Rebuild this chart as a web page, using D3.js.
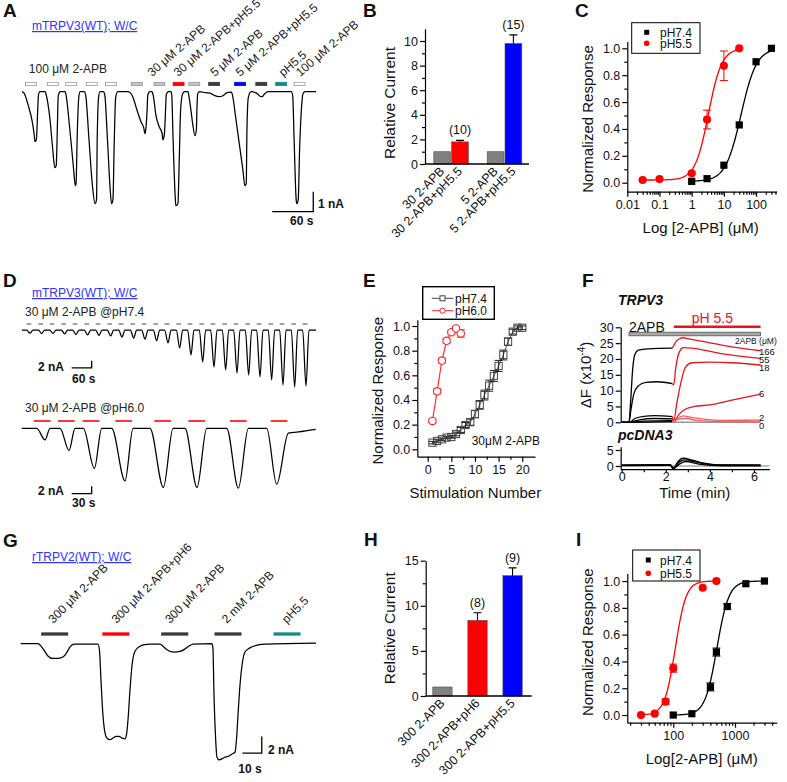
<!DOCTYPE html>
<html><head><meta charset="utf-8">
<script src="https://cdn.jsdelivr.net/npm/d3@7"></script>
<style>
body{margin:0;background:#fff}
svg{display:block}
text{font-family:'Liberation Sans',Arial,Helvetica,sans-serif;fill:#111}
.ax .domain,.ax line{stroke:#000;stroke-width:1.2}
.ax text{font-size:12.5px;fill:#111}
.trace{fill:none;stroke:#000;stroke-width:1.25;stroke-linejoin:round}
</style></head><body>
<div id="fig"></div>
<script>
// ---------- data ----------
// A: whole-cell trace, time (s) / current (nA)
var aTrace = [
 [0,0],[3,-0.07],[9,-0.67],[15,-1.5],[18,-2.2],[19,-2.5],[21,-2.4],[23,-0.9],[24,-0.2],[26,0],[34,0],
 [35,-0.1],[41,-1.4],[45,-2.9],[48,-3.8],[50,-3.7],[52,-1.4],[53,-0.2],[56,0],[63,0],
 [64,-0.1],[70,-1.9],[75,-3.7],[78,-4.7],[79,-4.6],[81,-1.9],[83,-0.3],[85,0],[91,0],
 [93,-0.15],[98,-2.4],[103,-4.7],[107,-5.6],[109,-5.4],[110,-2.4],[112,-0.3],[114,0],[119,0],
 [121,-0.15],[125,-2.4],[129,-4.9],[131,-5.6],[133,-5.4],[135,-2.4],[137,-0.3],[140,0],[155,0],[159,-0.07],
 [162,-0.25],[168,-0.9],[174,-1.5],[178,-1.8],[180,-2.1],[181,-1.9],[183,-0.9],[184,-0.15],[187,0],[190,0],
 [192,-0.2],[196,-1.2],[200,-1.7],[205,-2.1],[206,-2.4],[208,-2.2],[210,-0.9],[211,-0.15],[214,0],[218,0],
 [219,-0.15],[221,-2.4],[224,-5.2],[225,-5.7],[228,-5.6],[230,-3.4],[232,-0.9],[235,-0.1],[238,0],[243,0],
 [244,-0.2],[247,-0.9],[250,-1.7],[253,-2.2],[255,-1.9],[256,-0.7],[257,-0.1],[260,0],
 [268,-0.05],[275,-0.07],[282,-0.2],[288,-0.25],[294,-0.2],[300,-0.05],[306,-0.02],
 [307,-0.07],[313,-1.4],[319,-2.9],[323,-3.9],[326,-4.7],[328,-4.6],[329,-1.9],[331,-0.3],[335,0],
 [343,-0.07],[347,-0.2],[351,-0.25],[355,-0.1],[360,0],[394,0],
 [396,-0.25],[398,-2.4],[401,-5.4],[402,-5.6],[404,-5.4],[406,-2.9],[409,-0.7],[411,-0.1],[414,0],[430,0]
];
var aBarT = [13,45,72,102,130,168,201,229,252,281,319,350,379,406];
var aBarKind = ["w","w","w","w","w","g","g","r","g","k","b","k","t","w"];
var aRotLabels = ["30 \u03bcM 2-APB","30 \u03bcM 2-APB+pH5.5","5 \u03bcM 2-APB","5 \u03bcM 2-APB+pH5.5","pH5.5","100 \u03bcM 2-APB"];
var aRotT = [190,228,282,319,382,407];

// B
var bCats = ["30 2-APB","30 2-APB+pH5.5","5 2-APB","5 2-APB+pH5.5"];
var bVals = [1,1.8,1,9.8];
var bErr = [0,0.12,0,0.7];
var bN = ["","(10)","","(15)"];

// C: dose response
var cConc74 = [1,3,10,30,100,300];
var cResp74 = [0.01,0.03,0.13,0.43,0.9,1.0];
var cConc55 = [0.03,0.1,1,3,10,30];
var cResp55 = [0.02,0.027,0.07,0.47,0.87,1.0];
var cErr55 = [0,0,0,0.07,0.11,0];
var cFit74 = {ec50:34, n:1.8, bottom:0.01, top:1, lo:1, hi:300};
var cFit55 = {ec50:3.3, n:2.1, bottom:0.02, top:1, lo:0.03, hi:30};

// D: top trace (pH7.4) trough times (s) and amplitudes (nA)
var dTopTrough = [24,59,93,128,162,197,231,266,300,335,369,404,438,473,507,542,576,611,645,680,714,749,783,818,852];
var dTopAmp = [0.9,1,1,1.1,1.3,1.4,1.6,1.7,2,2.3,2.6,3.1,3.7,5.1,7.1,9.1,10.6,11.4,12.3,12.9,13.4,14.3,15.7,16.3,16];
// D: bottom trace (pH6.0)
var dBotOn = [22.5,57.5,92.5,135,192.5,245,307.5,367.5];
var dBotTrough = [35,71,109,155,212.5,263,325,382.5];
var dBotEnd = [42.5,80,120,167,227,277.5,340,400];
var dBotAmp = [3.2,6.1,11,14.4,16.2,16.2,16.4,15.3];
var dBotEndLevel = [0,0,0,0,0,0,0,-1.3];
var dBotTail = [[415,-1.0],[441,-0.3]];
var dBotDash = [31,67,104,153,211.5,262.5,325,386];

// E
var eStim74 = [1,2,3,4,5,6,7,8,9,10,11,12,13,14,15,16,17,18,19,20];
var eResp74 = [0.054,0.068,0.081,0.095,0.10,0.124,0.157,0.197,0.22,0.286,0.36,0.44,0.516,0.595,0.676,0.765,0.873,0.954,0.986,0.986];
var eErr74 = [0.01,0.01,0.01,0.01,0.01,0.015,0.02,0.02,0.025,0.03,0.035,0.04,0.045,0.045,0.045,0.04,0.03,0.02,0.015,0.015];
var eStim60 = [1,2,3,4,5,6,7];
var eResp60 = [0.23,0.47,0.72,0.88,0.95,0.98,0.94];
var eErr60 = [0.015,0.02,0.02,0.02,0.015,0.015,0.03];

// F: fluorescence, time (min) / dF (x1e-4)
var fConc = ["166","55","18","6","2","0"];
var fBlack = [
 [[0,0],[0.33,0],[0.4,6],[0.5,17],[0.6,21.5],[0.75,22.8],[1.2,23.2],[2.3,23.4]],
 [[0,0],[0.33,0],[0.42,4],[0.55,9],[0.75,11.5],[1.1,12.6],[1.6,12.8],[2.3,12.2]],
 [[0,0],[0.35,0],[0.6,1.2],[1.0,1.9],[1.5,2.1],[2.3,1.8]],
 [[0,0],[0.35,0],[0.8,0.8],[1.5,1.2],[2.3,1.1]],
 [[0,0],[0.35,0],[1,0.4],[2.3,0.5]],
 [[0,0],[0.35,0],[2.3,0.2]]
];
var fRed = [
 [[2.3,23.4],[2.4,24.8],[2.6,26.3],[2.8,26.7],[3.0,26.4],[4,25.1],[5,23.8],[6.3,22.6]],
 [[2.3,12.2],[2.36,11.8],[2.45,17],[2.6,22],[2.8,23.6],[3.2,23.4],[4.5,21.7],[6.3,20.2]],
 [[2.3,1.8],[2.36,0.5],[2.5,6],[2.7,13],[2.9,17.5],[3.2,18.8],[4,19],[5,18.8],[6.3,18.1]],
 [[2.3,1.1],[2.36,0.3],[2.6,2.5],[2.9,4.2],[3.3,5.0],[4,5.5],[5,7],[6.3,8.9]],
 [[2.3,0.5],[2.36,0.2],[2.6,1.5],[2.8,2.0],[3.1,1.6],[3.8,0.9],[4.5,0.6],[6.3,0.7]],
 [[2.3,0.2],[2.6,1.0],[2.9,1.2],[3.4,0.6],[4.5,0.2],[6.3,0.1]]
];
var fCtrl = [
 [[0,0.2],[2.2,0.3],[2.35,-1],[2.5,0.8],[2.8,2.4],[3.2,1.8],[3.8,0.8],[4.5,0.3],[6.3,0.3]],
 [[0,0.1],[2.2,0.2],[2.35,-0.5],[2.6,1.2],[2.9,1.9],[3.4,1.2],[4.2,0.3],[6.3,0.2]],
 [[0,0.3],[2.2,0.4],[2.35,-0.8],[2.6,0.5],[2.9,1.4],[3.5,0.6],[4.5,0.1],[6.3,0.1]]
];

// G: rTRPV2 trace, time (s) / current (nA)
var gTrace = [
 [0,0],[9,0],[10,-0.15],[12,-0.75],[14.1,-1.47],[16.7,-1.77],[19.3,-1.75],[21.9,-1.6],[24,-1.0],[25.5,-0.4],[27.6,-0.04],[40,-0.04],
 [40.8,-0.75],[41.6,-4.4],[42.6,-8.5],[43.7,-10.7],[44.7,-11.3],[46.3,-11.5],[47.8,-11.3],[49.4,-11.1],[50.9,-11.1],[52.5,-11.3],[54,-11.4],
 [54.8,-10.9],[55.6,-9.1],[56.6,-5.6],[57.7,-2.55],[59.2,-0.9],[61.8,-0.3],[64.4,-0.1],[67,-0.04],[72.2,-0.04],
 [73.2,-0.2],[75.3,-0.63],[77.3,-0.93],[79.9,-1.0],[82.5,-0.93],[85.1,-0.63],[87.2,-0.28],[89.3,-0.04],[99.1,0],
 [99.6,-0.5],[100.1,-5.6],[100.9,-10.9],[101.7,-13.6],[102.7,-13.9],[104.3,-13.8],[105.8,-13.6],[107.4,-13.5],[109.5,-13.2],[111,-13],
 [111.8,-11.5],[112.6,-8.5],[113.6,-5],[114.7,-2.55],[116.2,-1.0],[118.8,-0.5],[123,-0.15],[126.6,-0.04],[153,0.08]
];
var gBarT = [17.6,49.3,79.8,107.4,138];
var gBarKind = ["k","r","k","k","t"];
var gLabels = ["300 \u03bcM 2-APB","300 \u03bcM 2-APB+pH6","300 \u03bcM 2-APB","2 mM 2-APB","pH5.5"];
var gLabelT = [16.9,49.7,77.3,106.7,137.8];

// H
var hCats = ["300 2-APB","300 2-APB+pH6","300 2-APB+pH5.5"];
var hVals = [1,8.39,13.34];
var hErr = [0,0.84,0.86];
var hN = ["","(8)","(9)"];

// I
var iConc74 = [100,200,400,500,750,1500,3000];
var iResp74 = [0,0.01,0.21,0.47,0.81,0.98,1.0];
var iErr74 = [0,0,0.03,0.03,0.02,0,0];
var iConc55 = [30,50,75,100,300,500];
var iResp55 = [0,0.01,0.1,0.35,0.95,1.0];
var iErr55 = [0,0,0.02,0.03,0,0];
var iFit74 = {ec50:510, n:4.5, bottom:0, top:1, lo:100, hi:3000};
var iFit55 = {ec50:108, n:5, bottom:0, top:1, lo:30, hi:500};

// ---------- helpers ----------
var svg = d3.select("#fig").append("svg").attr("width",787).attr("height",782);
svg.append("rect").attr("width",787).attr("height",782).attr("fill","#fff");

var barColor = {w:"#ffffff", g:"#c4c4c4", r:"#ff0000", k:"#3a3a3a", b:"#0000ff", t:"#138a8a"};
var barStroke = {w:"#999", g:"#999", r:"#ff0000", k:"#3a3a3a", b:"#0000ff", t:"#138a8a"};

function txt(x, y, s, size, o) {
  o = o || {};
  var t = svg.append("text").attr("x",x).attr("y",y).text(s)
    .style("font-size", size + "px");
  if (o.bold) t.style("font-weight","bold");
  if (o.italic) t.style("font-style","italic");
  if (o.anchor) t.attr("text-anchor", o.anchor);
  if (o.fill) t.style("fill", o.fill);
  if (o.rot != null) t.attr("transform", "rotate(" + o.rot + "," + x + "," + y + ")");
  if (o.under) t.style("text-decoration","underline");
  return t;
}
function panel(s, x, y) { txt(x, y, s, 19, {bold:true}); }

function axisY(sc, x, major, minor, fmt) {
  var g = svg.append("g").attr("class","ax").attr("transform","translate(" + x + ",0)");
  g.call(d3.axisLeft(sc).tickValues(major).tickFormat(fmt).tickSize(5).tickSizeOuter(0).tickPadding(2));
  if (minor) g.append("g").call(d3.axisLeft(sc).tickValues(minor).tickFormat("").tickSize(3).tickSizeOuter(0))
    .select(".domain").remove();
  return g;
}
function axisX(sc, y, major, minor, fmt, tick, pad) {
  var g = svg.append("g").attr("class","ax").attr("transform","translate(0," + y + ")");
  g.call(d3.axisBottom(sc).tickValues(major).tickFormat(fmt).tickSize(tick == null ? 5 : tick).tickSizeOuter(0).tickPadding(pad == null ? 3 : pad));
  if (minor) g.append("g").call(d3.axisBottom(sc).tickValues(minor).tickFormat("").tickSize(3).tickSizeOuter(0))
    .select(".domain").remove();
  return g;
}
function logMinor(lo, hi) {
  var out = [];
  for (var e = lo; e < hi; e++) for (var k = 2; k <= 9; k++) out.push(k * Math.pow(10, e));
  return out;
}
function hill(p) {
  var a = Math.log10(p.lo), b = Math.log10(p.hi), pts = [];
  for (var k = 0; k <= 100; k++) {
    var x = Math.pow(10, a + (b - a) * k / 100);
    pts.push([x, p.bottom + (p.top - p.bottom) / (1 + Math.pow(p.ec50 / x, p.n))]);
  }
  return pts;
}
function scaleBar(x1, x2, y1, y2) {
  svg.append("path").attr("d","M" + x1 + "," + y2 + "H" + x2 + "V" + y1)
    .attr("fill","none").attr("stroke","#000").attr("stroke-width",1.3);
}
function errBars(xs, ys, xsData, vals, errs, col) {
  vals.forEach(function(v, i) {
    if (!errs[i]) return;
    var cx = xs(xsData[i]);
    svg.append("path").attr("d","M" + cx + "," + ys(v - errs[i]) + "V" + ys(v + errs[i]) +
      "M" + (cx - 4) + "," + ys(v - errs[i]) + "H" + (cx + 4) + "M" + (cx - 4) + "," + ys(v + errs[i]) + "H" + (cx + 4))
      .attr("stroke", col).attr("stroke-width",1).attr("fill","none");
  });
}
function barPanel(cats, vals, errs, ns, colors, xs, ys, labY) {
  svg.selectAll(null).data(vals).enter().append("rect")
    .attr("x", (d,i) => xs(cats[i]) + 0.5).attr("width", xs.bandwidth() - 1)
    .attr("y", d => ys(d)).attr("height", d => ys(0) - ys(d))
    .attr("fill", (d,i) => colors[i]).attr("stroke","#555").attr("stroke-width",0.6);
  vals.forEach(function(v, i) {
    var cx = xs(cats[i]) + xs.bandwidth() / 2;
    if (errs[i] > 0) {
      svg.append("path").attr("d","M" + cx + "," + ys(v) + "V" + ys(v + errs[i]) + "M" + (cx - 4) + "," + ys(v + errs[i]) + "H" + (cx + 4))
        .attr("stroke","#000").attr("stroke-width",1.1);
    }
    if (ns[i]) txt(cx, ys(v + errs[i]) - 6, ns[i], 12.5, {anchor:"middle"});
    txt(cx + 3, labY, cats[i], 12.5, {anchor:"end", rot:-45});
  });
}

// ---------- A ----------
panel("A", 3, 17);
txt(32, 30, "mTRPV3(WT); W/C", 12, {fill:"#3030ff", under:true});
var xA = d3.scaleLinear().domain([0,430]).range([22,316]);
var yA = d3.scaleLinear().domain([-6,0.5]).range([211.7,81.7]);
svg.append("path").datum(aTrace).attr("class","trace")
  .attr("d", d3.line().x(d => xA(d[0])).y(d => yA(d[1])).curve(d3.curveMonotoneX));
svg.selectAll(".abar").data(aBarT).enter().append("rect")
  .attr("x", d => xA(d - 8)).attr("width", xA(16) - xA(0)).attr("y", 82.3).attr("height", 3.3)
  .attr("fill", (d,i) => barColor[aBarKind[i]]).attr("stroke", (d,i) => barStroke[aBarKind[i]]).attr("stroke-width",0.8);
txt(xA(10), 73, "100 \u03bcM 2-APB", 12, {fill:"#222"});
aRotLabels.forEach(function(s, i) { txt(xA(aRotT[i]), 77, s, 12, {rot:-41, fill:"#222"}); });
scaleBar(xA(366), xA(426), yA(-5), yA(-6));
txt(318, 208, "1 nA", 12, {bold:true});
txt(290, 225, "60 s", 12, {bold:true});

// ---------- B ----------
panel("B", 363, 17);
var xB = d3.scaleBand().domain([bCats[0], bCats[1], "gap", bCats[2], bCats[3]]).range([433.3, 522.3]);
var yB = d3.scaleLinear().domain([0,11]).range([164, 28.7]);
barPanel(bCats, bVals, bErr, bN, ["#808080","#ff0000","#808080","#0000ff"], xB, yB, 172);
axisY(yB, 425, [0,2,4,6,8,10], [1,3,5,7,9], d3.format("d"));
svg.append("line").attr("x1",425).attr("x2",529).attr("y1",164).attr("y2",164).attr("stroke","#000").attr("stroke-width",1.3);
txt(395, 103, "Relative Current", 15.5, {anchor:"middle", rot:-90});

// ---------- C ----------
panel("C", 575, 17);
var xC = d3.scaleLog().domain([0.01, 437]).range([627.3, 776.7]);
var yC = d3.scaleLinear().domain([-0.067, 1.05]).range([191.7, 41.6]);
axisX(xC, 191.7, [0.01,0.1,1,10,100], logMinor(-2, 3).filter(v => v < 437), d => (d >= 1 ? d3.format("d")(d) : String(d)));
axisY(yC, 627.3, [0,0.2,0.4,0.6,0.8,1.0], [0.1,0.3,0.5,0.7,0.9], d3.format(".1f"));
var lineLog = (xs, ys) => d3.line().x(d => xs(d[0])).y(d => ys(d[1]));
svg.append("path").datum(hill(cFit74)).attr("d", lineLog(xC, yC)).attr("fill","none").attr("stroke","#000").attr("stroke-width",1.3);
svg.append("path").datum(hill(cFit55)).attr("d", lineLog(xC, yC)).attr("fill","none").attr("stroke","#ff0000").attr("stroke-width",1.3);
errBars(xC, yC, cConc55, cResp55, cErr55, "#ff0000");
svg.selectAll(".c74").data(cConc74).enter().append("rect")
  .attr("x", d => xC(d) - 3.6).attr("y", (d,i) => yC(cResp74[i]) - 3.6).attr("width",7.2).attr("height",7.2).attr("fill","#000");
svg.selectAll(".c55").data(cConc55).enter().append("circle")
  .attr("cx", d => xC(d)).attr("cy", (d,i) => yC(cResp55[i])).attr("r",4.1).attr("fill","#ff0000");
svg.append("rect").attr("x",631.7).attr("y",22.7).attr("width",68.3).attr("height",30.6).attr("fill","#fff").attr("stroke","#000").attr("stroke-width",1);
svg.append("rect").attr("x",644.2).attr("y",29.8).attr("width",5).attr("height",5).attr("fill","#000");
svg.append("circle").attr("cx",646.7).attr("cy",43.3).attr("r",2.8).attr("fill","#ff0000");
txt(660, 36.8, "pH7.4", 12);
txt(660, 47.8, "pH5.5", 12);
txt(593, 119, "Normalized Response", 15, {anchor:"middle", rot:-90});
txt(700.7, 233.3, "Log [2-APB] (\u03bcM)", 15, {anchor:"middle"});

// ---------- D ----------
panel("D", 3, 287);
txt(32, 297, "mTRPV3(WT); W/C", 12, {fill:"#3030ff", under:true});
txt(25, 316, "30 \u03bcM 2-APB @pH7.4", 12, {fill:"#222"});
var xDt = d3.scaleLinear().domain([0,882]).range([22,316]);
var yDt = d3.scaleLinear().domain([-17,0.5]).range([389.5,328.25]);
var dTopPts = [[0,0]];
dTopTrough.forEach(function(t, i) { dTopPts.push([t - 10, 0], [t, -dTopAmp[i]], [t + 9, 0]); });
dTopPts.push([882, 0]);
svg.append("path").datum(dTopPts).attr("class","trace")
  .attr("d", d3.line().x(d => xDt(d[0])).y(d => yDt(d[1])).curve(d3.curveMonotoneX));
svg.selectAll(".dd").data(dTopTrough).enter().append("line")
  .attr("x1", d => xDt(d - 10)).attr("x2", d => xDt(d + 4)).attr("y1",324).attr("y2",324)
  .attr("stroke","#666").attr("stroke-width",1.2);
scaleBar(xDt(149), xDt(209), yDt(-8.8), yDt(-10.8));
txt(64, 371, "2 nA", 12, {bold:true, anchor:"end"});
txt(72, 383, "60 s", 12, {bold:true});

txt(25, 412, "30 \u03bcM 2-APB @pH6.0", 12, {fill:"#222"});
var xDb = d3.scaleLinear().domain([0,441]).range([21.7,315.7]);
var yDb = d3.scaleLinear().domain([-17,0.5]).range([428.3 + 17 * 3.65, 428.3 - 0.5 * 3.65]);
var dBotPts = [[0,0]];
dBotOn.forEach(function(t, i) { dBotPts.push([t, 0], [dBotTrough[i], -dBotAmp[i]], [dBotEnd[i], dBotEndLevel[i]]); });
dBotTail.forEach(p => dBotPts.push(p));
svg.append("path").datum(dBotPts).attr("class","trace")
  .attr("d", d3.line().x(d => xDb(d[0])).y(d => yDb(d[1])).curve(d3.curveMonotoneX));
svg.selectAll(".db").data(dBotDash).enter().append("line")
  .attr("x1", d => xDb(d - 12.5)).attr("x2", d => xDb(d + 12.5)).attr("y1",421).attr("y2",421)
  .attr("stroke","#ff2020").attr("stroke-width",1.8);
scaleBar(xDb(75), xDb(105), yDb(-15.9), yDb(-17.9));
txt(64, 495, "2 nA", 12, {bold:true, anchor:"end"});
txt(72, 507, "30 s", 12, {bold:true});

// ---------- E ----------
panel("E", 363, 287);
var xE = d3.scaleLinear().domain([-2.2,22.7]).range([417.3,535]);
var yE = d3.scaleLinear().domain([-0.06,1.05]).range([456.7,319.85]);
axisX(xE, 456.7, [0,5,10,15,20], [2.5,7.5,12.5,17.5], d3.format("d"));
axisY(yE, 417.3, [0,0.2,0.4,0.6,0.8,1.0], [0.1,0.3,0.5,0.7,0.9], d3.format(".1f"));
svg.append("path").datum(eStim74.map((s,i) => [s, eResp74[i]]))
  .attr("d", d3.line().x(d => xE(d[0])).y(d => yE(d[1]))).attr("fill","none").attr("stroke","#444").attr("stroke-width",0.9);
errBars(xE, yE, eStim74, eResp74, eErr74, "#222");
svg.selectAll(".e74").data(eStim74).enter().append("rect")
  .attr("x", d => xE(d) - 3.6).attr("y", (d,i) => yE(eResp74[i]) - 3.6).attr("width",7.2).attr("height",7.2)
  .attr("fill","none").attr("stroke","#444").attr("stroke-width",1);
svg.append("path").datum(eStim60.map((s,i) => [s, eResp60[i]]))
  .attr("d", d3.line().x(d => xE(d[0])).y(d => yE(d[1]))).attr("fill","none").attr("stroke","#ff2020").attr("stroke-width",1.1);
errBars(xE, yE, eStim60, eResp60, eErr60, "#ff2020");
svg.selectAll(".e60").data(eStim60).enter().append("circle")
  .attr("cx", d => xE(d)).attr("cy", (d,i) => yE(eResp60[i])).attr("r",3.7)
  .attr("fill","#fff").attr("stroke","#ff2020").attr("stroke-width",1.1);
svg.append("rect").attr("x",422.7).attr("y",286.7).attr("width",71.6).attr("height",32.6).attr("fill","#fff").attr("stroke","#000").attr("stroke-width",1.4);
svg.append("line").attr("x1",431.7).attr("x2",453.3).attr("y1",298.3).attr("y2",298.3).attr("stroke","#444");
svg.append("rect").attr("x",440).attr("y",295.8).attr("width",5).attr("height",5).attr("fill","#fff").attr("stroke","#444");
svg.append("line").attr("x1",431.7).attr("x2",453.3).attr("y1",310.7).attr("y2",310.7).attr("stroke","#ff2020");
svg.append("circle").attr("cx",442.5).attr("cy",310.7).attr("r",2.6).attr("fill","#fff").attr("stroke","#ff2020");
txt(455, 302.5, "pH7.4", 12);
txt(455, 315, "pH6.0", 12);
txt(471.7, 445, "30\u03bcM 2-APB", 12);
txt(383, 390.7, "Normalized Response", 15, {anchor:"middle", rot:-90});
txt(475.3, 498.3, "Stimulation Number", 15, {anchor:"middle"});

// ---------- F ----------
panel("F", 582, 287);
txt(618, 305, "TRPV3", 14, {bold:true, italic:true});
txt(618, 440, "pcDNA3", 14, {bold:true, italic:true});
var xF = d3.scaleLinear().domain([-0.05,6.7]).range([620.6,769.4]);
var yF = d3.scaleLinear().domain([0,30]).range([422.3,327.3]);
var yF2 = d3.scaleLinear().domain([-1,6]).range([469.2,446.8]);
axisY(yF, 620.7, [0,5,10,15,20,25,30], null, d3.format("d"));
axisY(yF2, 620.7, [0,5], null, d3.format("d"));
axisX(xF, 469.2, [0,2,4,6], [1,3,5], d3.format("d"), 3, 0);
var lineF = d3.line().x(d => xF(d[0])).y(d => yF(d[1])).curve(d3.curveMonotoneX);
var lineF2 = d3.line().x(d => xF(d[0])).y(d => yF2(d[1])).curve(d3.curveMonotoneX);
svg.append("line").attr("x1",xF(0)).attr("x2",xF(6.3)).attr("y1",yF(0)).attr("y2",yF(0)).attr("stroke","#999").attr("stroke-width",1.5);
svg.append("line").attr("x1",xF(0)).attr("x2",xF(6.7)).attr("y1",yF2(0)).attr("y2",yF2(0)).attr("stroke","#aaa").attr("stroke-width",1.5);
fBlack.forEach(p => svg.append("path").datum(p).attr("d", lineF).attr("fill","none").attr("stroke","#000").attr("stroke-width",1.3));
fRed.forEach((p,i) => svg.append("path").datum(p).attr("d", lineF).attr("fill","none")
  .attr("stroke", i >= 4 ? "#f06060" : "#e8141b").attr("stroke-width",1.3));
fCtrl.forEach(p => svg.append("path").datum(p).attr("d", lineF2).attr("fill","none").attr("stroke","#000").attr("stroke-width",1.4));
svg.append("rect").attr("x",xF(0.33)).attr("y",332.2).attr("width",xF(6.3) - xF(0.33)).attr("height",3.6)
  .attr("fill","#a8a8a8").attr("stroke","#555").attr("stroke-width",0.8);
svg.append("line").attr("x1",xF(2.37)).attr("x2",xF(6.3)).attr("y1",326.7).attr("y2",326.7).attr("stroke","#e8141b").attr("stroke-width",2.4);
txt(629, 331.5, "2APB", 14);
txt(691.7, 323.3, "pH 5.5", 14, {fill:"#e8141b"});
txt(735, 344, "2APB (\u03bcM)", 8.5);
var fLabY = [355, 363, 371, 396.7, 420.5, 428.5];
fConc.forEach((c,i) => txt(759, fLabY[i], c, 9.5));
var fy = svg.append("text").attr("transform","translate(591,375) rotate(-90)").attr("text-anchor","middle").style("font-size","15px");
fy.append("tspan").text("\u0394F (x10");
fy.append("tspan").attr("dy",-6).style("font-size","10px").text("-4");
fy.append("tspan").attr("dy",6).text(")");
txt(694.7, 498.3, "Time (min)", 15, {anchor:"middle"});

// ---------- G ----------
panel("G", 3, 547);
txt(32, 561, "rTRPV2(WT); W/C", 12, {fill:"#3030ff", under:true});
var xG = d3.scaleLinear().domain([0,153]).range([20.7,316]);
var yG = d3.scaleLinear().domain([-15,1]).range([643.7 + 15 * 8.35, 643.7 - 8.35]);
svg.append("path").datum(gTrace).attr("class","trace")
  .attr("d", d3.line().x(d => xG(d[0])).y(d => yG(d[1])).curve(d3.curveMonotoneX));
svg.selectAll(".gbar").data(gBarT).enter().append("line")
  .attr("x1", d => xG(d - 7)).attr("x2", d => xG(d + 7)).attr("y1",634).attr("y2",634)
  .attr("stroke", (d,i) => barColor[gBarKind[i]]).attr("stroke-width",3.3);
gLabels.forEach((s,i) => txt(xG(gLabelT[i]), 624, s, 12, {rot:-45, fill:"#222"}));
scaleBar(xG(114.9), xG(124.9), yG(-11.1), yG(-13.1));
txt(268, 754, "2 nA", 12, {bold:true});
txt(238.3, 773, "10 s", 12, {bold:true});

// ---------- H ----------
panel("H", 364, 546);
var xH = d3.scaleBand().domain(hCats).range([424.9, 530.1]).paddingInner(0.42).paddingOuter(0.21);
var yH = d3.scaleLinear().domain([0,15]).range([696, 560.7]);
barPanel(hCats, hVals, hErr, hN, ["#808080","#ff0000","#0000ff"], xH, yH, 704);
axisY(yH, 425.7, [0,5,10,15], [2.5,7.5,12.5], d3.format("d"));
svg.append("line").attr("x1",425.7).attr("x2",531.7).attr("y1",696).attr("y2",696).attr("stroke","#000").attr("stroke-width",1.3);
txt(395, 628.3, "Relative Current", 15.5, {anchor:"middle", rot:-90});

// ---------- I ----------
panel("I", 576, 546);
var xI = d3.scaleLog().domain([18, 4740]).range([627.3, 776.7]);
var yI = d3.scaleLinear().domain([-0.057, 1.057]).range([722.7, 573.4]);
axisX(xI, 722.7, [100,1000], logMinor(1, 4).filter(v => v > 18 && v < 4740), d3.format("d"));
axisY(yI, 627.3, [0,0.2,0.4,0.6,0.8,1.0], [0.1,0.3,0.5,0.7,0.9], d3.format(".1f"));
svg.append("path").datum(hill(iFit74)).attr("d", lineLog(xI, yI)).attr("fill","none").attr("stroke","#000").attr("stroke-width",1.3);
svg.append("path").datum(hill(iFit55)).attr("d", lineLog(xI, yI)).attr("fill","none").attr("stroke","#ff0000").attr("stroke-width",1.3);
errBars(xI, yI, iConc74, iResp74, iErr74, "#000");
errBars(xI, yI, iConc55, iResp55, iErr55, "#ff0000");
svg.selectAll(".i74").data(iConc74).enter().append("rect")
  .attr("x", d => xI(d) - 3.6).attr("y", (d,i) => yI(iResp74[i]) - 3.6).attr("width",7.2).attr("height",7.2).attr("fill","#000");
svg.selectAll(".i55").data(iConc55).enter().append("circle")
  .attr("cx", d => xI(d)).attr("cy", (d,i) => yI(iResp55[i])).attr("r",4.1).attr("fill","#ff0000");
svg.append("rect").attr("x",632.7).attr("y",550).attr("width",67.3).attr("height",31).attr("fill","#fff").attr("stroke","#000").attr("stroke-width",1);
svg.append("rect").attr("x",645.8).attr("y",557.5).attr("width",5).attr("height",5).attr("fill","#000");
svg.append("circle").attr("cx",648.3).attr("cy",573.3).attr("r",2.8).attr("fill","#ff0000");
txt(660, 564.5, "pH7.4", 12);
txt(660, 577.5, "pH5.5", 12);
txt(593, 642.3, "Normalized Response", 15, {anchor:"middle", rot:-90});
txt(701.7, 764, "Log[2-APB] (\u03bcM)", 15, {anchor:"middle"});
</script></body></html>
